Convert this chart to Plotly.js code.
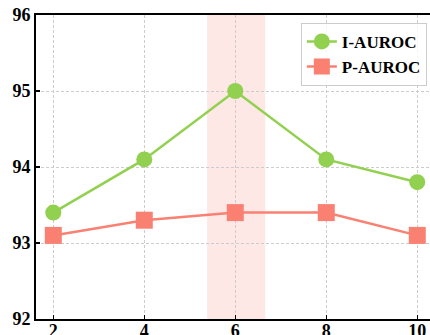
<!DOCTYPE html>
<html>
<head>
<meta charset="utf-8">
<script src="https://cdn.plot.ly/plotly-3.0.1.min.js"></script>
<style>html,body{margin:0;padding:0;background:#fff;}#chart{width:430px;height:335px;}</style>
</head>
<body>
<div id="chart"></div>
<script>
const xValues = [2, 4, 6, 8, 10];
const iAuroc = [93.4, 94.1, 95.0, 94.1, 93.8];
const pAuroc = [93.1, 93.3, 93.4, 93.4, 93.1];
const seriesNames = ['I-AUROC', 'P-AUROC'];
const highlightRange = [5.38, 6.66];
const yTicks = [92, 93, 94, 95, 96];

const font = 'Liberation Serif, Times New Roman, serif';

const traces = [
  {
    x: xValues, y: iAuroc, name: seriesNames[0], type: 'scatter', mode: 'lines+markers',
    line: {color: '#92D050', width: 2.5},
    marker: {symbol: 'circle', size: 16, color: '#92D050'}
  },
  {
    x: xValues, y: pAuroc, name: seriesNames[1], type: 'scatter', mode: 'lines+markers',
    line: {color: '#FA8072', width: 2.5},
    marker: {symbol: 'square', size: 17, color: '#FA8072'}
  }
];

const layout = {
  width: 430, height: 335,
  margin: {l: 36, r: 0, t: 15, b: 16},
  paper_bgcolor: '#fff', plot_bgcolor: '#fff',
  font: {family: font, size: 18, color: '#000'},
  showlegend: true,
  legend: {
    x: 0.992, y: 0.974, xanchor: 'right', yanchor: 'top',
    bgcolor: 'rgba(255,255,255,0.8)', bordercolor: '#cccccc', borderwidth: 1,
    font: {family: font, size: 17, color: '#000', weight: 'bold'},
    itemwidth: 30, tracegroupgap: 2
  },
  xaxis: {
    range: [1.62, 10.28], tickvals: xValues, ticktext: xValues.map(String),
    showgrid: true, gridcolor: '#cccccc', griddash: '3px,2px', gridwidth: 1,
    showline: true, linecolor: '#000', linewidth: 2, mirror: true,
    ticks: 'inside', ticklen: 4, tickwidth: 1.5, tickcolor: '#000',
    ticklabelstandoff: -6,
    tickfont: {family: font, size: 18, color: '#000', weight: 'bold'},
    zeroline: false, fixedrange: true
  },
  yaxis: {
    range: [92, 96], tickvals: yTicks, ticktext: yTicks.map(String),
    showgrid: true, gridcolor: '#cccccc', griddash: '3px,2px', gridwidth: 1,
    showline: true, linecolor: '#000', linewidth: 2, mirror: false,
    ticks: 'inside', ticklen: 4, tickwidth: 1.5, tickcolor: '#000',
    tickfont: {family: font, size: 18, color: '#000', weight: 'bold'},
    zeroline: false, fixedrange: true
  },
  shapes: [{
    type: 'rect', xref: 'x', yref: 'paper',
    x0: highlightRange[0], x1: highlightRange[1], y0: 0, y1: 1,
    fillcolor: 'rgba(250,128,114,0.18)', line: {width: 0}, layer: 'below'
  }]
};

Plotly.newPlot('chart', traces, layout, {displayModeBar: false, staticPlot: true});
</script>
</body>
</html>
